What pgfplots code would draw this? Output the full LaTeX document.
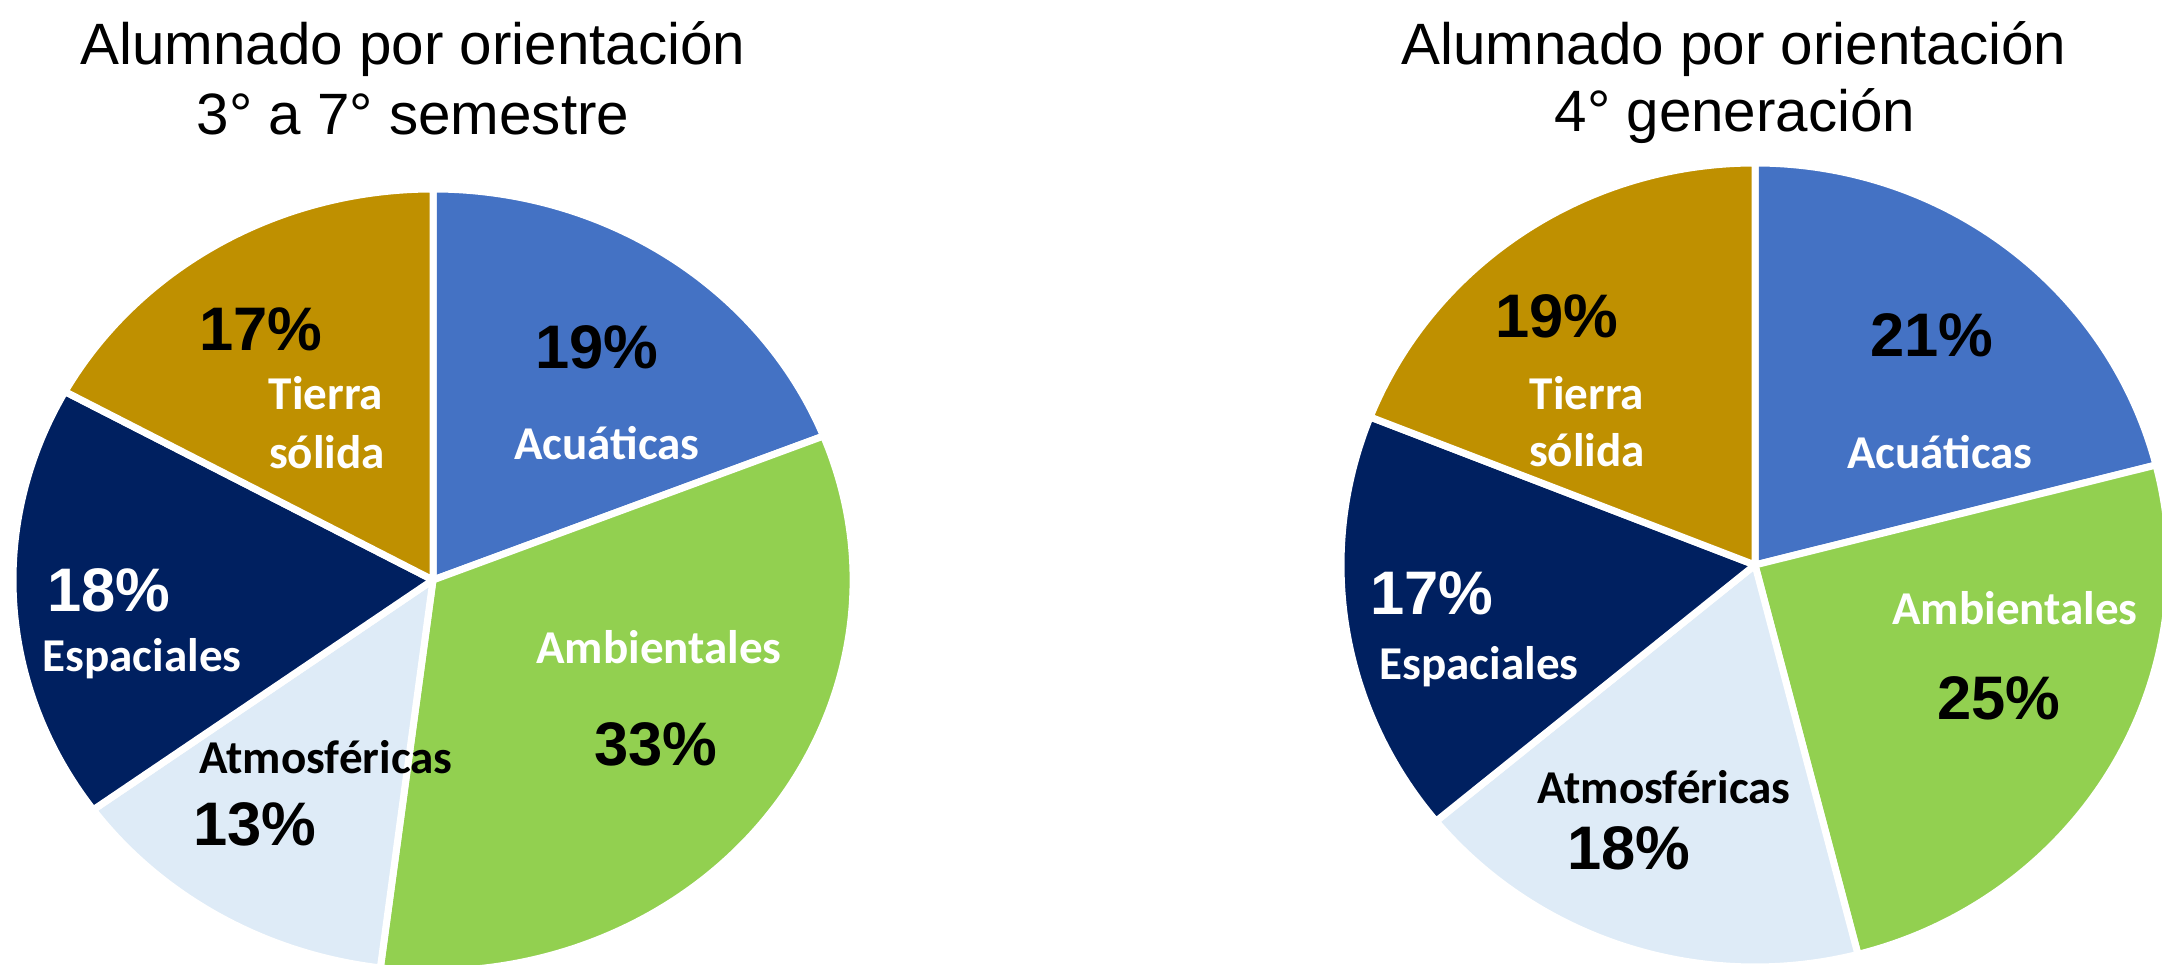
\documentclass[border=0pt]{standalone}
\usepackage{pgfplots}
\pgfplotsset{compat=1.18}
\usepackage{pgfplotstable}
\usepackage{fontspec}
\setmainfont{Liberation Sans}
\newfontfamily\calibri{Carlito}

\definecolor{acu}{HTML}{4472C4}
\definecolor{amb}{HTML}{92D050}
\definecolor{atm}{HTML}{DEEBF7}
\definecolor{esp}{HTML}{002060}
\definecolor{tie}{HTML}{BF9000}

% shares in percent, clockwise from 12 o'clock
\pgfplotstableread{
pct col
19 acu
33 amb
13 atm
18 esp
17 tie
}\semestres
\pgfplotstableread{
pct col
21 acu
25 amb
18 atm
17 esp
19 tie
}\generacion

% #1 table, #2 #3 centre (axis units), #4 #5 x/y radius
\newcommand\drawpie[5]{%
  \pgfplotstablegetrowsof{#1}%
  \pgfmathtruncatemacro\lastrow{\pgfplotsretval-1}%
  \pgfmathsetmacro\angA{90}%
  \pgfplotsforeachungrouped \r in {0,...,\lastrow}{%
    \pgfplotstablegetelem{\r}{pct}\of{#1}\let\pct\pgfplotsretval
    \pgfplotstablegetelem{\r}{col}\of{#1}\let\col\pgfplotsretval
    \pgfmathsetmacro\angB{\angA-3.6*\pct}%
    \edef\temp{\noexpand\filldraw[fill=\col, draw=white, line width=0.7mm, line join=round]
      (axis cs:#2,#3) -- ++(\angA:#4 and #5)
      arc[start angle=\angA, end angle=\angB, x radius=#4, y radius=#5] -- cycle;}%
    \temp
    \let\angA\angB
  }%
}

\tikzset{
  pct/.style={font=\fontsize{17.5}{20}\selectfont\bfseries, inner sep=0pt},
  lbl/.style={font=\calibri\fontsize{13.4}{16}\selectfont\bfseries, text=white, inner sep=0pt},
  ttl/.style={font=\fontsize{16.6}{20}\selectfont, inner sep=0pt, anchor=base},
}

\begin{document}
\begin{tikzpicture}
\path[use as bounding box] (0,0) rectangle (216.2mm,96.4mm);
\begin{axis}[
    at={(0,0)}, anchor=south west,
    scale only axis, width=216.2mm, height=96.4mm,
    xmin=0, xmax=2162, ymin=0, ymax=964,
    hide axis, clip=true,
]
\drawpie{\semestres}{433}{384}{42mm}{39.1mm}
\drawpie{\generacion}{1755}{399}{41.4mm}{40.2mm}

% titles
\node[ttl] at (axis cs:413,899) {Alumnado por orientación};
\node[ttl] at (axis cs:413,829) {3° a 7° semestre};
\node[ttl] at (axis cs:1734,899) {Alumnado por orientación};
\node[ttl] at (axis cs:1735,832) {4° generación};

% left pie
\node[pct] at (axis cs:597,617) {19\%};
\node[lbl] at (axis cs:607,521) {Acuáticas};
\node[pct] at (axis cs:261,635) {17\%};
\node[lbl] at (axis cs:326,571) {Tierra};
\node[lbl] at (axis cs:327,512) {sólida};
\node[pct, text=white] at (axis cs:109,374) {18\%};
\node[lbl] at (axis cs:142,305) {Espaciales};
\node[lbl, text=black] at (axis cs:326,207) {Atmosféricas};
\node[pct] at (axis cs:255,140) {13\%};
\node[lbl] at (axis cs:659,317) {Ambientales};
\node[pct] at (axis cs:656,220) {33\%};

% right pie
\node[pct] at (axis cs:1557,648) {19\%};
\node[lbl] at (axis cs:1587,571) {Tierra};
\node[lbl] at (axis cs:1587,514) {sólida};
\node[pct] at (axis cs:1932,629) {21\%};
\node[lbl] at (axis cs:1940,512) {Acuáticas};
\node[lbl] at (axis cs:2015,356) {Ambientales};
\node[pct] at (axis cs:1999,266) {25\%};
\node[pct, text=white] at (axis cs:1432,371) {17\%};
\node[lbl] at (axis cs:1479,297) {Espaciales};
\node[lbl, text=black] at (axis cs:1664,177) {Atmosféricas};
\node[pct] at (axis cs:1629,116) {18\%};
\end{axis}
\end{tikzpicture}
\end{document}
